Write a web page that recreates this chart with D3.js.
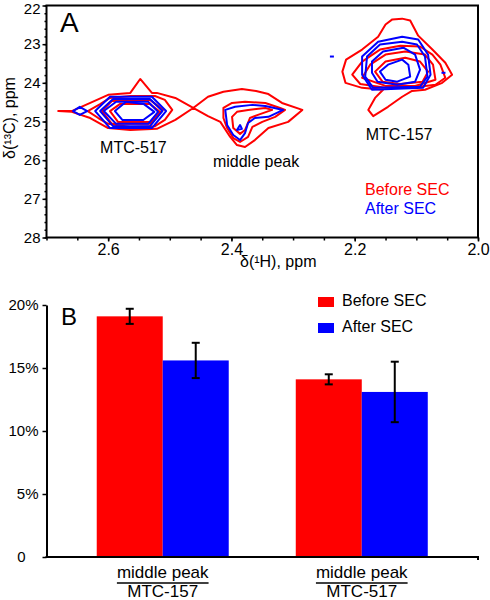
<!DOCTYPE html>
<html><head><meta charset="utf-8">
<script src="https://cdn.jsdelivr.net/npm/d3@7"></script>
<style>
body{margin:0;background:#fff}
svg{display:block}
text{font-family:"Liberation Sans",Arial,Helvetica,sans-serif}
</style>
</head><body>
<svg id="c" width="490" height="600"></svg>
<script>
// ---------- Panel A data (δ1H, δ13C in ppm) ----------
const H_TICKS = [2.6, 2.4, 2.2, 2.0];
const C_TICKS = [22, 23, 24, 25, 26, 27, 28];

// contour rings, "Before SEC" (red)
const beforeContours = [
  // outer ring joining MTC-517 and the middle peak
  [[2.681,24.73],[2.659,24.73],[2.629,24.52],[2.600,24.31],[2.564,24.26],[2.548,23.90],[2.529,24.26],[2.521,24.26],
   [2.491,24.39],[2.462,24.65],[2.438,24.36],[2.413,24.23],[2.383,24.16],[2.360,24.21],[2.340,24.29],[2.318,24.52],
   [2.285,24.70],[2.308,25.01],[2.340,25.17],[2.362,25.48],[2.378,25.66],[2.391,25.61],[2.402,25.40],[2.418,25.01],
   [2.438,24.86],[2.462,24.65],[2.491,24.96],[2.521,25.19],[2.564,25.22],[2.600,25.17],[2.629,24.91],[2.659,24.75]],
  // MTC-517
  [[2.633,24.73],[2.613,24.55],[2.597,24.39],[2.564,24.34],[2.524,24.34],[2.508,24.44],[2.496,24.70],[2.508,24.96],
   [2.524,25.12],[2.564,25.14],[2.600,25.06],[2.616,24.91]],
  [[2.610,24.73],[2.594,24.47],[2.532,24.44],[2.511,24.70],[2.532,25.06],[2.594,25.06]],
  [[2.597,24.73],[2.581,24.55],[2.532,24.55],[2.516,24.75],[2.532,25.01],[2.584,25.01]],
  // middle peak
  [[2.413,24.65],[2.399,24.52],[2.378,24.49],[2.345,24.52],[2.321,24.65],[2.313,24.70],[2.329,24.88],[2.350,25.01],
   [2.366,25.14],[2.373,25.40],[2.386,25.53],[2.397,25.43],[2.407,25.17],[2.413,24.91]],
  [[2.399,24.88],[2.391,24.75],[2.373,24.70],[2.345,24.65],[2.334,24.70],[2.357,24.83],[2.370,24.91],[2.378,25.22],
   [2.386,25.32],[2.397,25.17]],
  // MTC-157
  [[2.123,22.34],[2.110,22.39],[2.097,22.78],[2.074,23.14],[2.053,23.48],[2.042,23.79],[2.058,24.00],[2.086,24.18],
   [2.107,24.21],[2.123,24.36],[2.146,24.62],[2.170,24.86],[2.178,24.70],[2.167,24.39],[2.154,24.18],[2.188,24.13],
   [2.215,24.00],[2.220,23.71],[2.214,23.40],[2.188,23.14],[2.162,22.81],[2.150,22.49],[2.139,22.36]],
  [[2.204,23.79],[2.188,23.45],[2.159,23.14],[2.126,23.04],[2.094,23.06],[2.074,23.27],[2.061,23.53],[2.053,23.87],
   [2.069,24.05],[2.110,24.13],[2.150,24.13],[2.191,24.03]],
  [[2.188,23.87],[2.175,23.53],[2.150,23.27],[2.118,23.19],[2.086,23.27],[2.073,23.53],[2.069,23.92],[2.102,24.08],
   [2.150,24.08]],
  [[2.167,23.71],[2.150,23.45],[2.118,23.35],[2.094,23.45],[2.081,23.71],[2.090,23.97],[2.126,24.03],[2.155,23.97]]
];

// contour rings, "After SEC" (blue)
const afterContours = [
  // MTC-517
  [[2.657,24.73],[2.646,24.62],[2.634,24.73],[2.646,24.83]],
  [[2.621,24.73],[2.597,24.36],[2.529,24.36],[2.506,24.73],[2.529,25.17],[2.597,25.17]],
  [[2.613,24.73],[2.592,24.42],[2.532,24.42],[2.512,24.73],[2.532,25.12],[2.592,25.12]],
  [[2.607,24.73],[2.587,24.49],[2.535,24.49],[2.519,24.75],[2.535,25.06],[2.587,25.06]],
  [[2.589,24.73],[2.571,24.49],[2.542,24.55],[2.525,24.75],[2.543,24.96],[2.577,24.96]],
  // middle peak
  [[2.410,24.70],[2.394,24.62],[2.366,24.57],[2.345,24.60],[2.316,24.70],[2.340,24.88],[2.362,24.91],[2.373,25.04],
   [2.378,25.30],[2.386,25.48],[2.397,25.35],[2.407,25.09]],
  [[2.391,25.22],[2.386,25.09],[2.383,25.19]],
  // MTC-157
  [[2.188,23.32],[2.162,22.94],[2.123,22.81],[2.097,22.88],[2.081,23.27],[2.077,23.79],[2.089,24.13],[2.172,24.18],[2.188,23.79]],
  [[2.180,23.32],[2.159,23.01],[2.123,22.94],[2.099,23.01],[2.086,23.32],[2.082,23.84],[2.094,24.10],[2.170,24.13],[2.183,23.84]],
  [[2.172,23.45],[2.154,23.19],[2.121,23.09],[2.102,23.27],[2.094,23.66],[2.102,23.97],[2.131,24.05],[2.163,23.97],[2.172,23.74]],
  [[2.159,23.71],[2.146,23.53],[2.123,23.40],[2.113,23.53],[2.110,23.84],[2.131,23.97],[2.150,23.92]]
];
const afterSpecks = [[2.237,23.32],[2.056,23.74]];

const peakNames = ["MTC-517", "middle peak", "MTC-157"];
const peakLabelH = [2.559, 2.360, 2.128];
const peakLabelC = [25.82, 26.18, 25.48];

// ---------- Panel B data ----------
const groups = ["MTC-157", "MTC-517"];          // denominators of "middle peak / ..."
const series = ["Before SEC", "After SEC"];
const beforeValues = [19.1, 14.1];
const beforeErrors = [0.6, 0.4];
const afterValues = [15.6, 13.1];
const afterErrors = [1.4, 2.4];
const PCT_TICKS = [0, 5, 10, 15, 20];

const RED = "#ff0000", BLUE = "#0000ff";
const svg = d3.select("#c");

// ================= Panel A =================
const xA = d3.scaleLinear().domain([2.7, 2.0]).range([46.5, 478]);
const yA = d3.scaleLinear().domain([22, 28]).range([5.5, 237.5]);

const gA = svg.append("g");
const ring = d3.line().x(d => xA(d[0])).y(d => yA(d[1])).curve(d3.curveLinearClosed);

gA.append("g").selectAll("path").data(beforeContours).join("path")
  .attr("d", ring).attr("fill", "none").attr("stroke", RED)
  .attr("stroke-width", 2).attr("stroke-linejoin", "round");
gA.append("g").selectAll("path").data(afterContours).join("path")
  .attr("d", ring).attr("fill", "none").attr("stroke", BLUE)
  .attr("stroke-width", 2).attr("stroke-linejoin", "round");
gA.append("g").selectAll("line").data(afterSpecks).join("line")
  .attr("x1", d => xA(d[0]) - 2).attr("x2", d => xA(d[0]) + 2)
  .attr("y1", d => yA(d[1])).attr("y2", d => yA(d[1]))
  .attr("stroke", BLUE).attr("stroke-width", 2);

// frame
gA.append("rect")
  .attr("x", xA.range()[0]).attr("y", yA.range()[0])
  .attr("width", xA.range()[1] - xA.range()[0]).attr("height", yA.range()[1] - yA.range()[0])
  .attr("fill", "none").attr("stroke", "#000").attr("stroke-width", 2);

// axes
const yAx = gA.append("g").attr("transform", `translate(${xA.range()[0]},0)`)
  .call(d3.axisLeft(yA).tickValues(C_TICKS).tickSize(4).tickPadding(2).tickFormat(d3.format("d")));
const yAm = gA.append("g").attr("transform", `translate(${xA.range()[0]},0)`)
  .call(d3.axisLeft(yA).tickValues(d3.range(22, 28.001, 0.2)).tickSize(2).tickFormat(""));
const xAx = gA.append("g").attr("transform", `translate(0,${yA.range()[1]})`)
  .call(d3.axisBottom(xA).tickValues(H_TICKS).tickSize(4).tickPadding(2).tickFormat(d3.format(".1f")));
const xAm = gA.append("g").attr("transform", `translate(0,${yA.range()[1]})`)
  .call(d3.axisBottom(xA).tickValues(d3.range(2.0, 2.701, 0.05)).tickSize(3).tickFormat(""));
[yAx, yAm, xAx, xAm].forEach(g => {
  g.select(".domain").remove();
  g.selectAll("line").attr("stroke", "#000").attr("stroke-width", 1.5);
  g.selectAll("text").attr("fill", "#000").style("font-size", "15px")
   .style("font-family", '"Liberation Sans",Arial,sans-serif');
});
xAx.selectAll("text").style("font-size", "16px");
yAx.selectAll(".tick").filter(d => d === 22).select("text").attr("dy", "0.5em");

gA.append("text").attr("x", 240).attr("y", 267).style("font-size", "16px").text("δ(¹H), ppm");
gA.append("text").attr("transform", "translate(15,118) rotate(-90)").attr("text-anchor", "middle")
  .style("font-size", "16px").text("δ(¹³C), ppm");
gA.append("text").attr("x", 60).attr("y", 32).style("font-size", "28px").text("A");

gA.append("g").selectAll("text").data(peakNames).join("text")
  .attr("x", (d, i) => xA(peakLabelH[i])).attr("y", (d, i) => yA(peakLabelC[i]))
  .attr("text-anchor", "middle").style("font-size", "16px").text(d => d);

gA.append("text").attr("x", 365).attr("y", 195).attr("fill", RED).style("font-size", "16px").text(series[0]);
gA.append("text").attr("x", 365).attr("y", 214).attr("fill", BLUE).style("font-size", "16px").text(series[1]);

// ================= Panel B =================
const yB = d3.scaleLinear().domain([0, 20]).range([557, 305]);
const xB = d3.scalePoint().domain(groups).range([46.5, 478]).padding(0.584);
const xS = d3.scaleBand().domain(series).range([-66, 66]);
const gB = svg.append("g");

const barData = [];
groups.forEach((g, i) => {
  barData.push({g, s: series[0], v: beforeValues[i], e: beforeErrors[i], c: RED});
  barData.push({g, s: series[1], v: afterValues[i], e: afterErrors[i], c: BLUE});
});

gB.append("g").selectAll("rect").data(barData).join("rect")
  .attr("x", d => xB(d.g) + xS(d.s)).attr("width", xS.bandwidth())
  .attr("y", d => yB(d.v)).attr("height", d => yB(0) - yB(d.v))
  .attr("fill", d => d.c);

const eb = gB.append("g").attr("stroke", "#000").attr("stroke-width", 2);
barData.forEach(d => {
  const cx = xB(d.g) + xS(d.s) + xS.bandwidth() / 2;
  eb.append("line").attr("x1", cx).attr("x2", cx).attr("y1", yB(d.v + d.e)).attr("y2", yB(d.v - d.e));
  eb.append("line").attr("x1", cx - 4).attr("x2", cx + 4).attr("y1", yB(d.v + d.e)).attr("y2", yB(d.v + d.e));
  eb.append("line").attr("x1", cx - 4).attr("x2", cx + 4).attr("y1", yB(d.v - d.e)).attr("y2", yB(d.v - d.e));
});

const yBx = gB.append("g").attr("transform", `translate(${xB.range()[0]},0)`)
  .call(d3.axisLeft(yB).tickValues(PCT_TICKS).tickSize(4).tickPadding(4).tickSizeOuter(0)
    .tickFormat(d => d === 0 ? "0" : d + "%"));
yBx.select(".domain").attr("stroke", "#000").attr("stroke-width", 2);
yBx.selectAll("line").attr("stroke", "#000").attr("stroke-width", 1.5);
yBx.selectAll("text").attr("fill", "#000").style("font-size", "15px")
  .style("font-family", '"Liberation Sans",Arial,sans-serif');
yBx.selectAll(".tick").filter(d => d === 0).select("text").attr("dx", -13);

// x axis line with small end hook
gB.append("path")
  .attr("d", `M${xB.range()[0] - 1},${yB(0)}H${xB.range()[1]}v3`)
  .attr("fill", "none").attr("stroke", "#000").attr("stroke-width", 2);

// category labels
groups.forEach(g => {
  const cx = xB(g);
  const t = gB.append("text").attr("x", cx).attr("y", 578).attr("text-anchor", "middle")
    .style("font-size", "17px").text("middle peak");
  const w = t.node().getComputedTextLength();
  gB.append("line").attr("x1", cx - w / 2).attr("x2", cx + w / 2).attr("y1", 583).attr("y2", 583)
    .attr("stroke", "#000").attr("stroke-width", 1.5);
  gB.append("text").attr("x", cx).attr("y", 597).attr("text-anchor", "middle")
    .style("font-size", "17px").text(g);
});

gB.append("text").attr("x", 61).attr("y", 325).style("font-size", "24px").text("B");

// legend
const lg = gB.append("g").selectAll("g").data(series).join("g")
  .attr("transform", (d, i) => `translate(318,${297 + i * 26})`);
lg.append("rect").attr("width", 16).attr("height", 10).attr("fill", (d, i) => i === 0 ? RED : BLUE);
lg.append("text").attr("x", 24).attr("y", 9).style("font-size", "16px").text(d => d);
</script>
</body></html>
